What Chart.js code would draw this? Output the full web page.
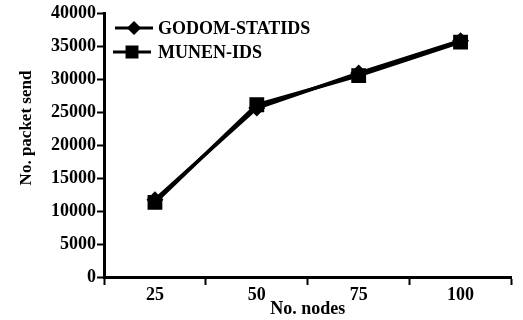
<!DOCTYPE html>
<html>
<head>
<meta charset="utf-8">
<script src="https://cdn.jsdelivr.net/npm/chart.js@4/dist/chart.umd.min.js"></script>
<style>
  html, body { margin: 0; padding: 0; background: #fff; }
  #wrap { width: 523px; height: 320px; position: relative; }
</style>
</head>
<body>
<div id="wrap"><canvas id="c" width="523" height="320"></canvas></div>
<script>
// Packets sent versus network size for the two detection schemes
const nodeCounts = ['25', '50', '75', '100'];
const godomStatids = [11700, 25600, 30900, 35800];
const munenIds = [11300, 26100, 30500, 35600];
const yTicks = [0, 5000, 10000, 15000, 20000, 25000, 30000, 35000, 40000];

const FONT = "'Liberation Serif', 'Times New Roman', serif";
Chart.defaults.font.family = FONT;
Chart.defaults.color = '#000';

// Legend drawn in the upper-left of the plot: line segment with marker, then label
const lineLegend = {
  id: 'lineLegend',
  afterDraw(chart) {
    const ctx = chart.ctx;
    const rows = [
      { y: 28, x0: 115, x1: 153 },
      { y: 52, x0: 113, x1: 151 }
    ];
    chart.data.datasets.forEach((ds, i) => {
      const r = rows[i];
      ctx.save();
      ctx.strokeStyle = '#000';
      ctx.lineWidth = 3;
      ctx.beginPath();
      ctx.moveTo(r.x0, r.y);
      ctx.lineTo(r.x1, r.y);
      ctx.stroke();
      ctx.fillStyle = '#000';
      Chart.helpers.drawPoint(ctx, {
        pointStyle: ds.pointStyle,
        radius: i === 0 ? 5 : 7,
        rotation: 0,
        borderWidth: 1
      }, (r.x0 + r.x1) / 2, r.y);
      ctx.fill();
      ctx.font = 'bold 18px ' + FONT;
      ctx.textBaseline = 'middle';
      ctx.textAlign = 'left';
      ctx.fillText(ds.label, 158, r.y + 1);
      ctx.restore();
    });
    // vertical axis title
    ctx.save();
    ctx.translate(27, 128);
    ctx.rotate(-Math.PI / 2);
    ctx.font = 'bold 17px ' + FONT;
    ctx.fillStyle = '#000';
    ctx.textAlign = 'center';
    ctx.textBaseline = 'middle';
    ctx.fillText('No. packet send', 0, 0);
    ctx.restore();
  }
};

new Chart(document.getElementById('c'), {
  type: 'line',
  data: {
    labels: nodeCounts,
    datasets: [
      {
        label: 'GODOM-STATIDS',
        data: godomStatids,
        borderColor: '#000',
        backgroundColor: '#000',
        borderWidth: 3.5,
        pointStyle: 'rectRot',
        pointRadius: 6,
        tension: 0
      },
      {
        label: 'MUNEN-IDS',
        data: munenIds,
        borderColor: '#000',
        backgroundColor: '#000',
        borderWidth: 3.5,
        pointStyle: 'rect',
        pointRadius: 8,
        tension: 0
      }
    ]
  },
  options: {
    responsive: false,
    animation: false,
    layout: { padding: { top: 13, right: 6, left: 0, bottom: 0 } },
    plugins: {
      legend: { display: false },
      tooltip: { enabled: false }
    },
    scales: {
      x: {
        type: 'category',
        offset: true,
        grid: {
          offset: true,
          drawOnChartArea: false,
          drawTicks: true,
          tickLength: 8,
          tickWidth: 2,
          tickColor: '#000'
        },
        border: { display: true, color: '#000', width: 3 },
        ticks: {
          color: '#000',
          font: { family: FONT, size: 18, weight: 'bold' },
          padding: 0,
          maxRotation: 0
        },
        title: {
          display: true,
          text: 'No. nodes',
          color: '#000',
          font: { family: FONT, size: 18, weight: 'bold' },
          padding: { top: -10, bottom: 0 }
        },
        afterFit(scale) { scale.height = 43; }
      },
      y: {
        min: 0,
        max: 40000,
        afterBuildTicks(scale) {
          scale.ticks = yTicks.map(v => ({ value: v }));
        },
        grid: {
          drawOnChartArea: false,
          drawTicks: true,
          tickLength: 7,
          tickWidth: 2,
          tickColor: '#000'
        },
        border: { display: true, color: '#000', width: 3 },
        ticks: {
          color: '#000',
          font: { family: FONT, size: 18, weight: 'bold' },
          padding: 1,
          callback: v => String(v)
        },
        afterFit(scale) { scale.width = 104; }
      }
    }
  },
  plugins: [lineLegend]
});
</script>
</body>
</html>
